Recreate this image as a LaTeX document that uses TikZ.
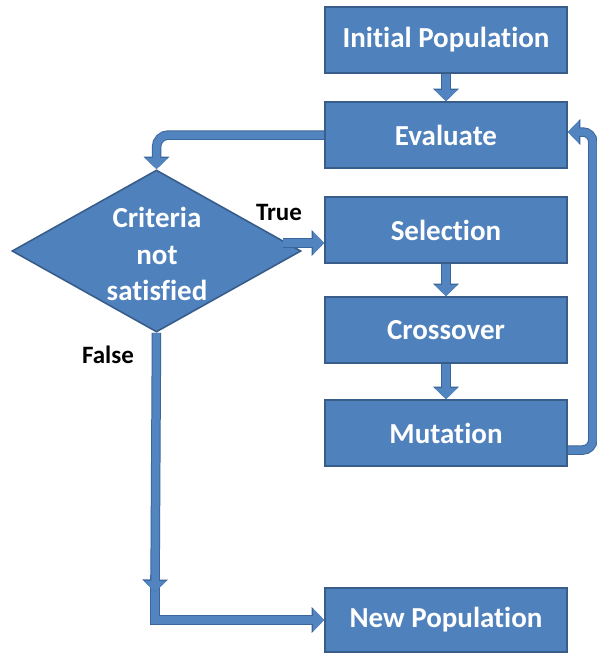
\documentclass[tikz,border=0pt]{standalone}
\usepackage{fontspec}
\setmainfont[Ligatures=NoCommon]{Carlito}
\usetikzlibrary{arrows.meta,shapes.geometric}
\definecolor{boxfill}{HTML}{4F81BD}
\definecolor{boxedge}{HTML}{385D8A}
\definecolor{arrfill}{HTML}{5284C0}
\definecolor{arredge}{HTML}{3A669C}
\tikzset{
  box/.style={draw=boxedge, fill=boxfill, line width=1.6pt, minimum width=242pt, minimum height=66pt, inner sep=0pt,
    text=white, font=\fontsize{29}{34}\selectfont\bfseries},
  dia/.style={diamond, draw=boxedge, fill=boxfill, line width=1.6pt, minimum width=289pt, minimum height=162pt, inner sep=0pt},
  blockarrow/.style={line width=7.5pt, draw=arrfill, -{Triangle[length=11pt,width=22pt]},
    preaction={draw=arredge, line width=9.5pt, -{Triangle[length=12.5pt,width=25pt]}}},
  lbl/.style={text=black, font=\fontsize{25}{30}\selectfont\bfseries, inner sep=0pt},
}
\begin{document}
\begin{tikzpicture}[x=1pt,y=-1pt]
\useasboundingbox[fill=white] (0,0) rectangle (597,654);
\node[box] (init) at (446,40) {Initial Population};
\node[box] (eval) at (446,135) {Evaluate};
\node[box] (sel) at (446,230) {Selection};
\node[box] (cross) at (446,330) {Crossover};
\node[box] (mut) at (446,433) {Mutation};
\node[box, minimum height=64pt] (newp) at (446,620) {New Population};
\node[dia] (d) at (156.5,251) {};
\node[text=white, align=center, font=\fontsize{29}{36.5}\selectfont\bfseries] (dtext) at (157,254) {Criteria\\not\\satisfied};
\node[lbl] (true) at (279,212) {True};
\node[lbl] (false) at (108,355) {False};
\coordinate (tstart) at (283,243);
\coordinate (fmid) at (155,592);
\coordinate (fcont) at (155,575);
% arrows
\draw[blockarrow] (init.south) -- (eval.north);
\draw[blockarrow] (sel.south) -- (cross.north);
\draw[blockarrow] (cross.south) -- (mut.north);
\draw[blockarrow, rounded corners=12pt] (eval.west) -| (d.north);
\draw[blockarrow] (tstart) -- (tstart -| sel.west);
\draw[blockarrow, rounded corners=10pt] ([yshift=-17pt]mut.east) -- ++(25,0) |- ([yshift=3pt]eval.east);
\draw[blockarrow] (fcont) |- (newp.west);
\draw[blockarrow] (d.south) -- (fmid);
\end{tikzpicture}
\end{document}
